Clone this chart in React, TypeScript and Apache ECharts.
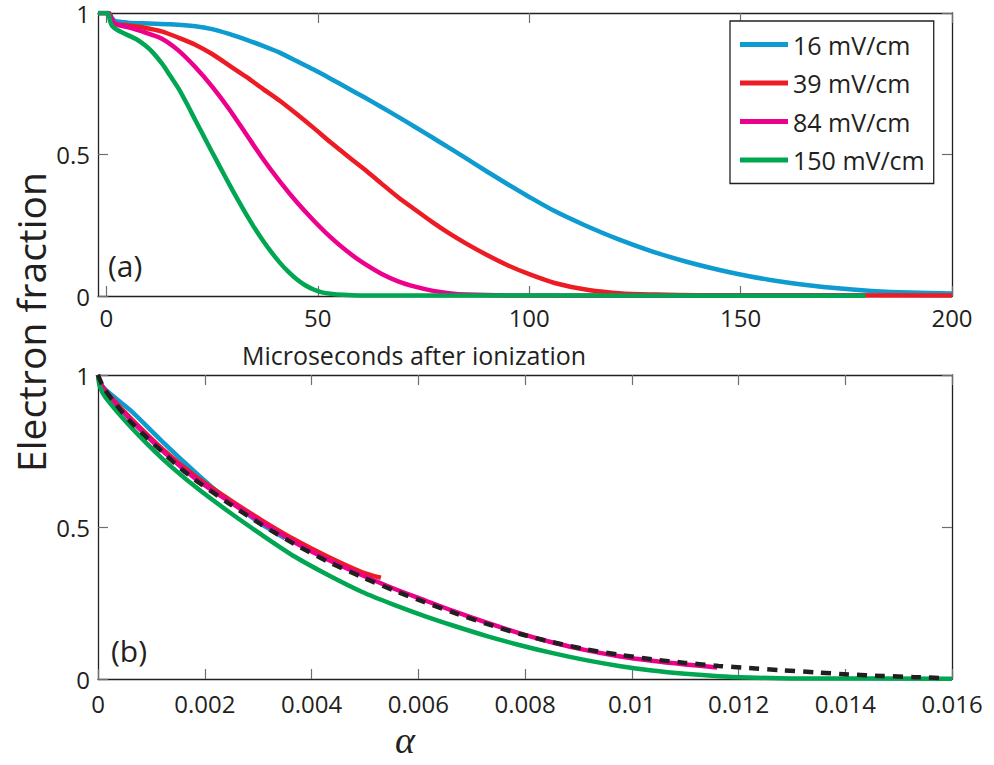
import React, { useEffect, useRef } from "react";
import * as echarts from "echarts";

// ---------- Panel (a): electron fraction vs microseconds after ionization ----------
const fieldNames = ["16 mV/cm", "39 mV/cm", "84 mV/cm", "150 mV/cm"];
const fieldColors = ["#0e9bd0", "#ed1c24", "#ec008c", "#00a651"];

const timeTicks = [0, 50, 100, 150, 200];

const a16: [number, number][] = [
  [-2, 1], [0.5, 1], [1.2, 0.985], [2, 0.972], [5, 0.966], [10, 0.963], [15, 0.96],
  [21, 0.953], [25, 0.943], [29, 0.926], [33, 0.906], [37, 0.884], [41, 0.86],
  [45, 0.83], [49, 0.8], [53, 0.768], [57, 0.735], [61, 0.702], [65, 0.668],
  [69, 0.633], [73, 0.597], [77, 0.561], [81, 0.524], [85, 0.487], [90, 0.44],
  [95, 0.394], [100, 0.35], [106, 0.3], [113, 0.251], [121, 0.201], [129, 0.158],
  [137, 0.122], [145, 0.092], [152, 0.07], [159, 0.052], [166, 0.038], [173, 0.027],
  [181, 0.018], [190, 0.012], [200, 0.009],
];

const a39: [number, number][] = [
  [-2, 1], [0.5, 1], [1.2, 0.98], [2, 0.962], [5, 0.956], [9, 0.948], [13, 0.935],
  [17, 0.913], [21, 0.888], [25, 0.855], [29, 0.815], [33, 0.775], [37, 0.732],
  [41, 0.69], [45, 0.643], [49, 0.594], [53, 0.543], [57, 0.495], [61, 0.448],
  [65, 0.398], [69, 0.349], [73, 0.305], [77, 0.262], [81, 0.222], [85, 0.186],
  [90, 0.145], [95, 0.108], [100, 0.077], [106, 0.046], [114, 0.021], [122, 0.009],
  [130, 0.005], [140, 0.003], [200, 0.002],
];

const a84: [number, number][] = [
  [-2, 1], [0.5, 1], [1.2, 0.98], [2, 0.962], [5, 0.95], [9, 0.932], [13, 0.91],
  [17, 0.868], [21, 0.809], [25, 0.74], [29, 0.661], [33, 0.573], [37, 0.485],
  [41, 0.405], [45, 0.332], [49, 0.267], [53, 0.208], [57, 0.157], [61, 0.114],
  [65, 0.079], [69, 0.052], [73, 0.033], [77, 0.019], [81, 0.01], [85, 0.005],
  [95, 0.002], [178, 0.001],
];

const a150: [number, number][] = [
  [-2, 1], [0.3, 1], [0.8, 0.975], [1.3, 0.955], [2.8, 0.938], [5.3, 0.92],
  [7, 0.908], [9.2, 0.885], [11, 0.86], [13.2, 0.82], [15, 0.78], [17.1, 0.732],
  [19, 0.68], [21, 0.622], [23, 0.565], [25, 0.508], [27, 0.452], [29, 0.396],
  [31, 0.342], [33, 0.29], [35, 0.241], [37, 0.196], [39, 0.155], [41, 0.118],
  [43, 0.086], [45, 0.059], [47, 0.038], [49, 0.023], [51, 0.013], [53, 0.008],
  [56, 0.004], [60, 0.002], [179.5, 0.001],
];

// ---------- Panel (b): electron fraction vs alpha ----------
const b16: [number, number][] = [
  [0, 1], [0.00004, 0.975], [0.00015, 0.95], [0.0006, 0.885], [0.0012, 0.782],
  [0.00182, 0.68], [0.00213, 0.632], [0.0025, 0.582], [0.003, 0.517], [0.0035, 0.463],
];

const b39: [number, number][] = [
  [0, 1], [0.00005, 0.97], [0.0002, 0.935], [0.0006, 0.86], [0.0012, 0.758],
  [0.00182, 0.668], [0.00245, 0.592], [0.00307, 0.522], [0.00369, 0.458],
  [0.00431, 0.402], [0.00494, 0.352], [0.0053, 0.333],
];

const b84: [number, number][] = [
  [0, 1], [0.00005, 0.97], [0.0002, 0.93], [0.0006, 0.855], [0.0012, 0.752],
  [0.00182, 0.66], [0.00245, 0.585], [0.00307, 0.515], [0.00369, 0.449],
  [0.00431, 0.392], [0.00494, 0.342], [0.00556, 0.296], [0.00612, 0.259],
  [0.00665, 0.224], [0.00727, 0.186], [0.00789, 0.151], [0.00852, 0.12],
  [0.00914, 0.095], [0.00976, 0.075], [0.01038, 0.06], [0.011, 0.048], [0.0116, 0.038],
];

const b150: [number, number][] = [
  [0, 1], [0.00003, 0.965], [0.00013, 0.929], [0.00058, 0.836], [0.0012, 0.726],
  [0.00182, 0.633], [0.00245, 0.55], [0.00307, 0.474], [0.00369, 0.402],
  [0.00431, 0.342], [0.00494, 0.287], [0.00556, 0.243], [0.00612, 0.207],
  [0.00665, 0.176], [0.00727, 0.142], [0.00789, 0.112], [0.00852, 0.085],
  [0.00914, 0.062], [0.00976, 0.043], [0.01038, 0.028], [0.011, 0.017],
  [0.01163, 0.009], [0.0122, 0.005], [0.013, 0.002], [0.016, 0.001],
];

const bModel: [number, number][] = [
  [0, 1], [0.0001, 0.96], [0.00027, 0.918], [0.00058, 0.852], [0.0009, 0.797],
  [0.0012, 0.748], [0.0015, 0.7], [0.00182, 0.655], [0.00245, 0.578],
  [0.00307, 0.507], [0.00369, 0.443], [0.00431, 0.386], [0.00494, 0.336],
  [0.00556, 0.29], [0.00612, 0.253], [0.00665, 0.219], [0.00727, 0.182],
  [0.00789, 0.149], [0.00852, 0.121], [0.00914, 0.098], [0.00976, 0.08],
  [0.01038, 0.065], [0.011, 0.053], [0.01163, 0.043], [0.01219, 0.036],
  [0.01281, 0.029], [0.01344, 0.022], [0.01406, 0.015], [0.0147, 0.01],
  [0.0153, 0.006], [0.0159, 0.003],
];

const seriesA = [a16, a39, a84, a150];
const seriesB = [b16, b39, b84, b150];

const FONT = "Open Sans";
const AXIS_COLOR = "#231f20";
const TICK_COLOR = "#6d6e70";

function fmtAlpha(v: number) {
  return String(parseFloat(v.toFixed(4)));
}

export default function App() {
  const ref = useRef<HTMLDivElement>(null);

  useEffect(() => {
    if (!ref.current) return;
    const chart = echarts.init(ref.current, undefined, { renderer: "svg" });

    const axisLine = { show: true, onZero: false, lineStyle: { color: AXIS_COLOR, width: 1.3 } };
    const tick = (extra: any = {}) => ({
      show: true,
      inside: true,
      length: 10,
      lineStyle: { color: TICK_COLOR, width: 1.2 },
      ...extra,
    });
    const label = { fontFamily: FONT, fontSize: 24, color: AXIS_COLOR };

    const lineSeries = (name: string, data: [number, number][], color: string, xi: number, yi: number, z: number) => ({
      type: "line",
      name,
      data,
      xAxisIndex: xi,
      yAxisIndex: yi,
      symbol: "none",
      smooth: 0.25,
      z,
      lineStyle: { color, width: 4.5, cap: "butt", join: "round" },
      itemStyle: { color },
      emphasis: { disabled: true },
    });

    const series: any[] = [];
    seriesA.forEach((d, i) => series.push(lineSeries(fieldNames[i], d, fieldColors[i], 0, 0, 2 + i)));
    seriesB.forEach((d, i) => series.push(lineSeries(fieldNames[i], d, fieldColors[i], 2, 2, 2 + i)));
    series.push({
      type: "line",
      name: "model",
      data: bModel,
      xAxisIndex: 2,
      yAxisIndex: 2,
      symbol: "none",
      smooth: 0.25,
      z: 10,
      lineStyle: { color: "#231f20", width: 4.5, type: [10, 8], cap: "butt" },
      itemStyle: { color: "#231f20" },
      emphasis: { disabled: true },
    });

    chart.setOption({
      animation: false,
      backgroundColor: "#ffffff",
      grid: [
        { left: 98, right: 42, top: 13, height: 283 },
        { left: 98, right: 42, top: 375, height: 304 },
      ],
      xAxis: [
        {
          type: "value", gridIndex: 0, position: "bottom", min: -2, max: 200,
          axisLine, splitLine: { show: false },
          axisTick: tick({ customValues: timeTicks }),
          axisLabel: { ...label, margin: 9, customValues: timeTicks },
        },
        {
          type: "value", gridIndex: 0, position: "top", min: -2, max: 200,
          axisLine, splitLine: { show: false },
          axisTick: tick({ customValues: timeTicks }),
          axisLabel: { show: false },
        },
        {
          type: "value", gridIndex: 1, position: "bottom", min: 0, max: 0.016, interval: 0.002,
          axisLine, splitLine: { show: false },
          axisTick: tick(),
          axisLabel: { ...label, margin: 12, formatter: fmtAlpha },
        },
        {
          type: "value", gridIndex: 1, position: "top", min: 0, max: 0.016, interval: 0.002,
          axisLine, splitLine: { show: false },
          axisTick: tick(),
          axisLabel: { show: false },
        },
      ],
      yAxis: [
        {
          type: "value", gridIndex: 0, position: "left", min: 0, max: 1, interval: 0.5,
          axisLine, splitLine: { show: false }, axisTick: tick(),
          axisLabel: { ...label, margin: 8, lineHeight: 20 },
        },
        {
          type: "value", gridIndex: 0, position: "right", min: 0, max: 1, interval: 0.5,
          axisLine, splitLine: { show: false }, axisTick: tick(),
          axisLabel: { show: false },
        },
        {
          type: "value", gridIndex: 1, position: "left", min: 0, max: 1, interval: 0.5,
          axisLine, splitLine: { show: false }, axisTick: tick(),
          axisLabel: { ...label, margin: 8, lineHeight: 20 },
        },
        {
          type: "value", gridIndex: 1, position: "right", min: 0, max: 1, interval: 0.5,
          axisLine, splitLine: { show: false }, axisTick: tick(),
          axisLabel: { show: false },
        },
      ],
      legend: {
        data: fieldNames,
        orient: "vertical",
        left: 730,
        top: 21,
        backgroundColor: "#ffffff",
        borderColor: AXIS_COLOR,
        borderWidth: 1.3,
        borderRadius: 0,
        padding: [8, 9, 8, 10],
        itemWidth: 48,
        itemHeight: 5,
        itemGap: 7.5,
        icon: "rect",
        selectedMode: false,
        textStyle: { fontFamily: FONT, fontSize: 25, color: AXIS_COLOR, lineHeight: 31 },
      },
      graphic: [
        {
          type: "text", x: 30, y: 322, rotation: Math.PI / 2, z: 20,
          style: {
            text: "Electron fraction", fontFamily: FONT, fontSize: 39, fill: AXIS_COLOR,
            textAlign: "center", textVerticalAlign: "middle",
          },
        },
        {
          type: "text", x: 414, y: 355, z: 20,
          style: {
            text: "Microseconds after ionization", fontFamily: FONT, fontSize: 25, fill: AXIS_COLOR,
            textAlign: "center", textVerticalAlign: "middle",
          },
        },
        {
          type: "text", x: 405, y: 740, z: 20,
          style: {
            text: "α", fontFamily: "Liberation Serif", fontStyle: "italic", fontSize: 38, fill: AXIS_COLOR,
            textAlign: "center", textVerticalAlign: "middle",
          },
        },
        {
          type: "text", x: 108, y: 265, z: 20,
          style: {
            text: "(a)", fontFamily: FONT, fontSize: 30, fill: AXIS_COLOR,
            textAlign: "left", textVerticalAlign: "middle",
          },
        },
        {
          type: "text", x: 111, y: 650, z: 20,
          style: {
            text: "(b)", fontFamily: FONT, fontSize: 30, fill: AXIS_COLOR,
            textAlign: "left", textVerticalAlign: "middle",
          },
        },
      ],
      series,
    });

    return () => chart.dispose();
  }, []);

  return (
    <div
      ref={ref}
      style={{ position: "fixed", left: 0, top: 0, width: 994, height: 765, background: "#fff" }}
    />
  );
}
